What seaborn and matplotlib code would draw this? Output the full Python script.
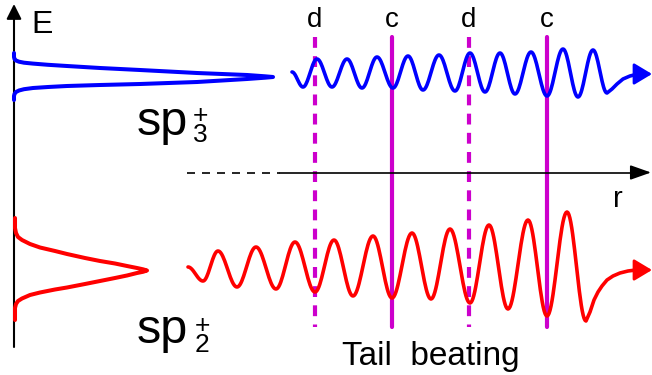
import numpy as np
import matplotlib
matplotlib.use("Agg")
import matplotlib.pyplot as plt
import seaborn as sns

# everything is in picture pixels (x to the right, y downwards)

# blue wave (sp3+): turning points, then the tail into the arrow
blue_x = [292, 303, 317, 332, 347, 362, 377, 393, 408, 423, 439, 455, 470, 485, 500, 515, 531, 547, 563, 578, 593, 607]
blue_y = [72, 87, 59, 87, 59, 88, 57, 88, 56, 90, 55, 91, 53, 92, 53, 94, 52, 96, 49, 97, 50, 93]
blue_tail_x = [607, 612, 617, 623, 630, 638]
blue_tail_y = [93, 89, 84, 79, 76, 74]

# red wave (sp2+)
red_x = [188, 203, 218, 237, 256, 276, 295, 315, 334, 353, 373, 392, 412, 431, 450, 470, 489, 508, 528, 547, 567, 586]
red_y = [267, 281, 251, 287, 247, 289, 242, 292, 240, 296, 236, 298, 233, 299, 229, 303, 225, 309, 220, 316, 212, 321]
red_tail_x = [586, 590, 594, 598, 602, 607, 613, 620, 628, 636]
red_tail_y = [321, 312, 300, 292, 286, 280, 276, 273, 271, 270]

# energy profiles on the E axis
blue_peak_x = [14, 14, 14.5, 16, 19, 24, 33, 48, 67, 100, 140, 197, 247, 265, 273,
               265, 247, 197, 140, 100, 67, 48, 33, 24, 19, 16, 14.5, 14, 14]
blue_peak_y = [53, 57, 59, 60.5, 61.7, 62.7, 63.6, 64.8, 66, 68, 70, 73, 75, 76.3, 77,
               77.7, 79, 82, 84, 85, 86, 87, 88, 89.2, 90.5, 92, 94, 96, 100]
red_peak_x = [15, 15, 16, 18, 22, 30, 40, 55, 67, 85, 100, 115, 127, 137, 143, 147,
              143, 137, 127, 115, 100, 85, 67, 55, 40, 30, 22, 18, 16, 15, 15]
red_peak_y = [218, 228, 233, 237, 240, 244, 247.5, 251, 254, 258, 261, 263.5, 266, 268, 269.3, 270.5,
              271.8, 273, 275.5, 278, 281, 284, 287.5, 289.5, 292.5, 295, 298.5, 301, 304, 308, 320]

# magenta markers
cut_x = [315, 392, 469, 547]
cut_labels = ["d", "c", "d", "c"]


def smooth_wave(xs, ys, n=20):
    # half-cosine between successive turning points
    px, py = [], []
    for i in range(len(xs) - 1):
        t = np.linspace(0, 1, n, endpoint=False)
        px.extend(xs[i] + (xs[i + 1] - xs[i]) * t)
        py.extend(ys[i] + (ys[i + 1] - ys[i]) * (1 - np.cos(np.pi * t)) / 2)
    px.append(xs[-1]); py.append(ys[-1])
    return np.array(px), np.array(py)


sns.set_theme(style="white")
plt.rcParams["font.family"] = ["Liberation Sans", "DejaVu Sans"]
plt.rcParams["text.color"] = "black"

fig = plt.figure(figsize=(6.52, 3.75), dpi=100)
ax = fig.add_axes([0, 0, 1, 1])

MAG = "#cc00cc"
for x, lab in zip(cut_x, cut_labels):
    ls = (0, (2.6, 2.0)) if lab == "d" else "-"
    ax.plot([x, x], [37, 327], color=MAG, lw=3, ls=ls, zorder=1)
    ax.text(x, 27, lab, fontsize=20, ha="center", va="baseline")

# axes
ax.plot([14, 14], [347, 15], color="black", lw=1.5, zorder=2)
ax.annotate("", xy=(14, 4), xytext=(14, 18),
            arrowprops=dict(arrowstyle="-|>,head_length=0.6,head_width=0.3", color="black", lw=1.5,
                            mutation_scale=15, shrinkA=0, shrinkB=0))
ax.plot([187, 280], [172.5, 172.5], color="black", lw=1.2, ls=(0, (4.8, 4.2)))
ax.plot([280, 636], [172.5, 172.5], color="black", lw=1.2)
ax.annotate("", xy=(651, 172.5), xytext=(634, 172.5),
            arrowprops=dict(arrowstyle="-|>,head_length=0.85,head_width=0.3", color="black", lw=1.2,
                            mutation_scale=15, shrinkA=0, shrinkB=0))
ax.text(31, 33, "E", fontsize=23, ha="left", va="baseline")
ax.text(618, 207, "r", fontsize=21, ha="center", va="baseline")

# waves
for wx, wy, tx, ty, col in [(blue_x, blue_y, blue_tail_x, blue_tail_y, "#0000ff"),
                            (red_x, red_y, red_tail_x, red_tail_y, "#ff0000")]:
    sx, sy = smooth_wave(wx, wy)
    sx = np.concatenate([sx, tx[1:]]); sy = np.concatenate([sy, ty[1:]])
    sns.lineplot(x=sx, y=sy, sort=False, estimator=None, color=col, lw=2.6, ax=ax, zorder=3)
    ax.annotate("", xy=(652, ty[-1]), xytext=(tx[-1] - 2, ty[-1]),
                arrowprops=dict(arrowstyle="-|>,head_length=0.55,head_width=0.33", color=col, lw=2,
                                mutation_scale=20, shrinkA=0, shrinkB=0), zorder=3)

sns.lineplot(x=blue_peak_x, y=blue_peak_y, sort=False, estimator=None, color="#0000ff", lw=2.9, ax=ax)
sns.lineplot(x=red_peak_x, y=red_peak_y, sort=False, estimator=None, color="#ff0000", lw=2.9, ax=ax)
ax.set_xlim(0, 652); ax.set_ylim(375, 0)
ax.axis("off")

# labels ("+" stacked over the index, as one text)
ax.text(137, 135, "sp", fontsize=35, ha="left", va="baseline")
ax.text(200, 142, "+\n3", fontsize=19, ha="center", va="baseline", ma="center", linespacing=0.72)
ax.text(137, 343, "sp", fontsize=35, ha="left", va="baseline")
ax.text(202, 352, "+\n2", fontsize=19, ha="center", va="baseline", ma="center", linespacing=0.72)
ax.text(431, 365, "Tail  beating", fontsize=24, ha="center", va="baseline")

fig.savefig("out.png", dpi=100)
